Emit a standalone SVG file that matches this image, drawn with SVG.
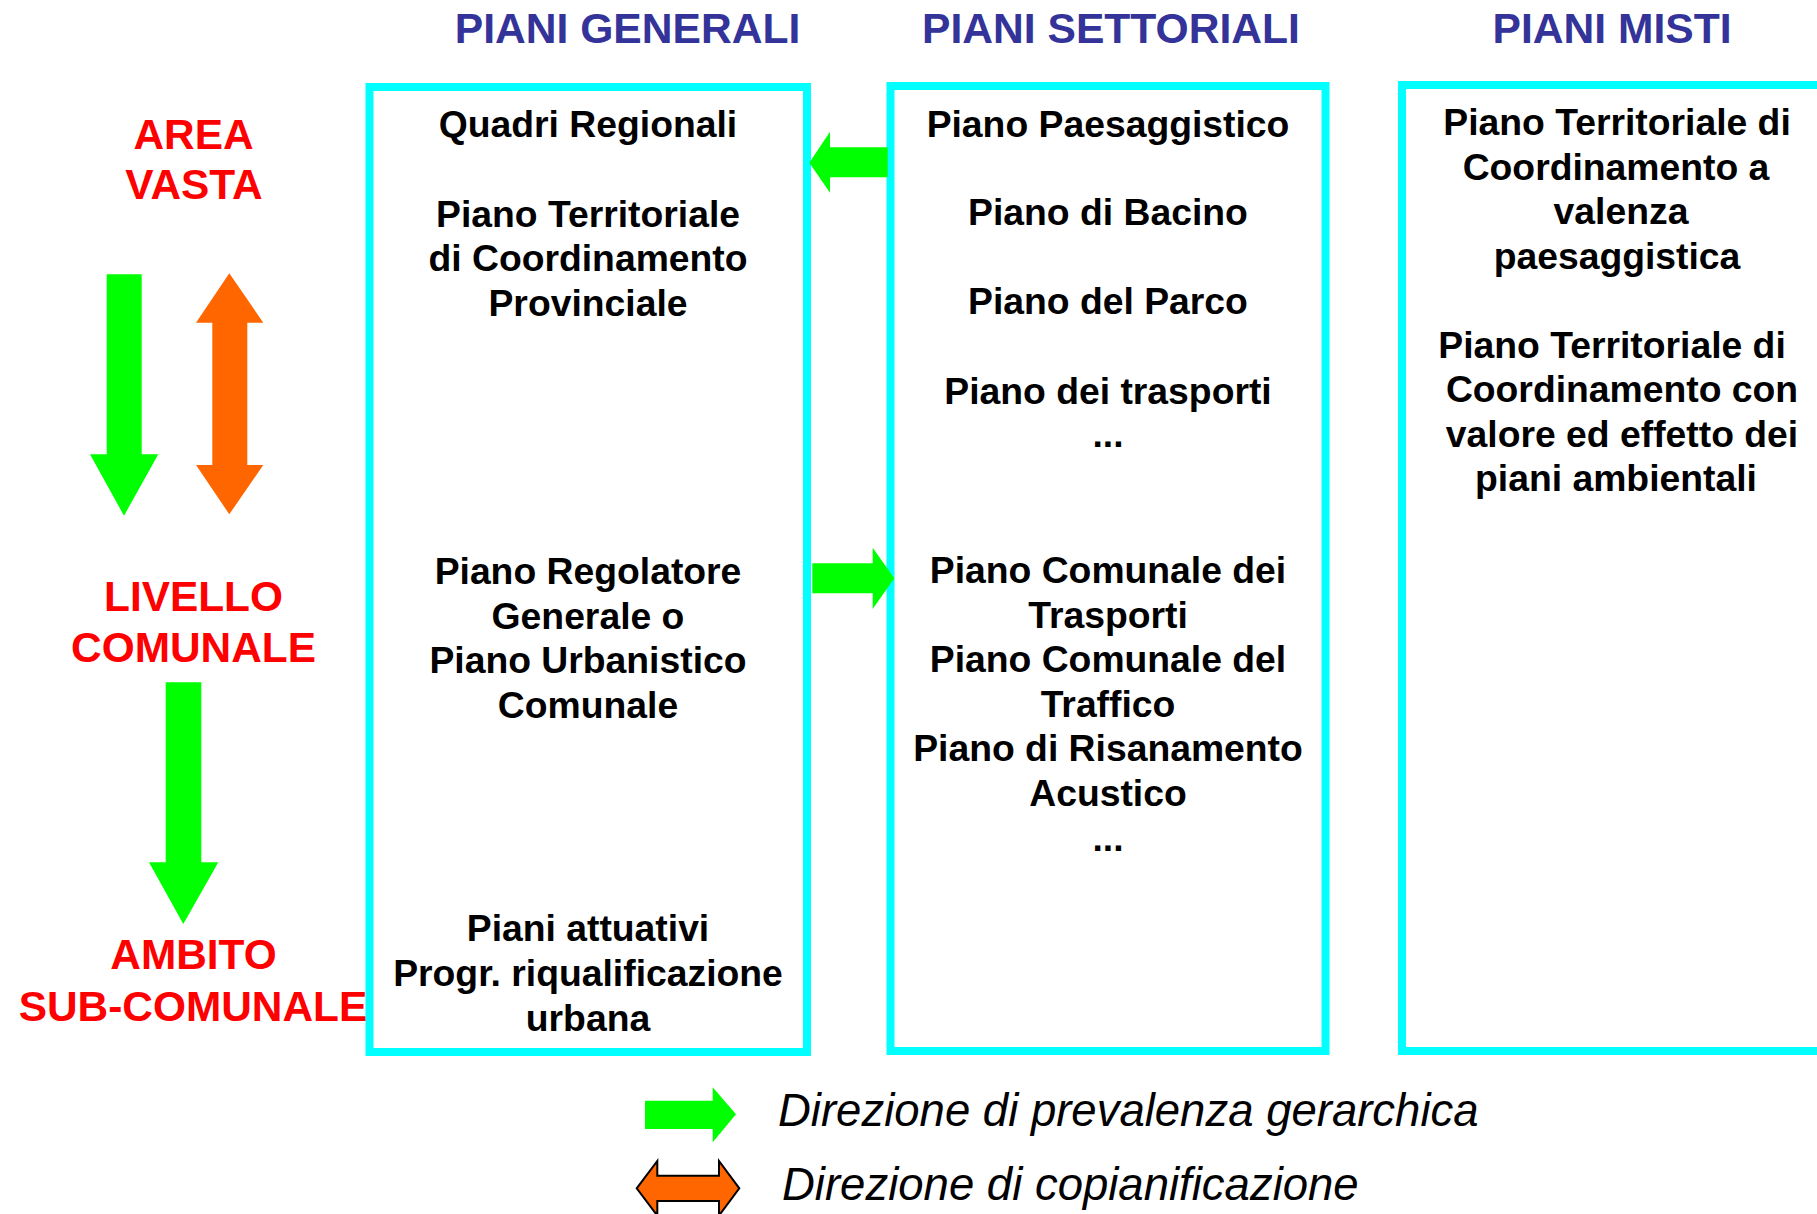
<svg xmlns="http://www.w3.org/2000/svg" width="1817" height="1214" viewBox="0 0 1817 1214">
  <style>
    .box { fill: none; stroke: #00FFFF; stroke-width: 8; }
    .title { font-family: "Liberation Sans", Arial, sans-serif; font-weight: bold; font-size: 42.6px; fill: #333399; text-anchor: middle; }
    .level { font-family: "Liberation Sans", Arial, sans-serif; font-weight: bold; font-size: 42.4px; fill: #FF0000; text-anchor: middle; }
    .item { font-family: "Liberation Sans", Arial, sans-serif; font-weight: bold; font-size: 37.3px; fill: #000000; text-anchor: middle; }
    .legend { font-family: "Liberation Sans", Arial, sans-serif; font-style: italic; font-size: 45.5px; fill: #000000; }
    .green { fill: #00FF00; }
    .orange { fill: #FF6600; }
    .orange-outline { fill: #FF6600; stroke: #000000; stroke-width: 2; stroke-linejoin: miter; }
  </style>
  <rect width="1817" height="1214" fill="#FFFFFF"/>

  <g id="titles">
    <text class="title" x="627.5" y="43">PIANI GENERALI</text>
    <text class="title" x="1111" y="43">PIANI SETTORIALI</text>
    <text class="title" x="1612" y="43">PIANI MISTI</text>
  </g>

  <g id="levels">
    <text class="level" x="193.5" y="149.3">AREA</text>
    <text class="level" x="194" y="199.3">VASTA</text>
    <text class="level" x="193.5" y="611">LIVELLO</text>
    <text class="level" x="193.5" y="661.7">COMUNALE</text>
    <text class="level" x="193.5" y="969.3">AMBITO</text>
    <text class="level" x="193" y="1021">SUB-COMUNALE</text>
  </g>

  <g id="level-arrows">
    <polygon class="green" points="106.7,274.3 141.7,274.3 141.7,454.3 158.3,454.3 124,515.7 90,454.3 106.7,454.3"/>
    <polygon class="orange" points="229.3,273.3 263.3,322.7 247.3,322.7 247.3,465 263.3,465 229.3,514.3 196,465 212.3,465 212.3,322.7 196,322.7"/>
    <polygon class="green" points="165.7,682.3 201.3,682.3 201.3,862.3 218.3,862.3 183.3,924 149,862.3 165.7,862.3"/>
  </g>

  <g id="piani-generali">
    <rect class="box" x="369.5" y="87" width="437.5" height="965"/>
    <text class="item" x="588" y="137">Quadri Regionali</text>
    <text class="item" x="588" y="226.5">Piano Territoriale</text>
    <text class="item" x="588" y="271.2">di Coordinamento</text>
    <text class="item" x="588" y="315.9">Provinciale</text>
    <text class="item" x="588" y="584">Piano Regolatore</text>
    <text class="item" x="588" y="628.7">Generale o</text>
    <text class="item" x="588" y="673.4">Piano Urbanistico</text>
    <text class="item" x="588" y="718.1">Comunale</text>
    <text class="item" x="588" y="941">Piani attuativi</text>
    <text class="item" x="588" y="986">Progr. riqualificazione</text>
    <text class="item" x="588" y="1030.9">urbana</text>
  </g>

  <g id="piani-settoriali">
    <rect class="box" x="890.5" y="86" width="435" height="965"/>
    <text class="item" x="1108" y="137">Piano Paesaggistico</text>
    <text class="item" x="1108" y="225.3">Piano di Bacino</text>
    <text class="item" x="1108" y="314">Piano del Parco</text>
    <text class="item" x="1108" y="404">Piano dei trasporti</text>
    <text class="item" x="1108" y="446.7">...</text>
    <text class="item" x="1108" y="583">Piano Comunale dei</text>
    <text class="item" x="1108" y="627.5">Trasporti</text>
    <text class="item" x="1108" y="672">Piano Comunale del</text>
    <text class="item" x="1108" y="716.5">Traffico</text>
    <text class="item" x="1108" y="761">Piano di Risanamento</text>
    <text class="item" x="1108" y="805.5">Acustico</text>
    <text class="item" x="1108" y="850.5">...</text>
  </g>

  <g id="piani-misti">
    <rect class="box" x="1402" y="85" width="500" height="966"/>
    <text class="item" x="1617" y="135">Piano Territoriale di</text>
    <text class="item" x="1616" y="179.5">Coordinamento a</text>
    <text class="item" x="1621" y="224">valenza</text>
    <text class="item" x="1617" y="268.5">paesaggistica</text>
    <text class="item" x="1612" y="358.3">Piano Territoriale di</text>
    <text class="item" x="1622" y="402">Coordinamento con</text>
    <text class="item" x="1622" y="446.5">valore ed effetto dei</text>
    <text class="item" x="1616" y="491">piani ambientali</text>
  </g>

  <g id="connectors">
    <polygon class="green" points="809.3,162.7 830,131.7 830,147.3 887.7,147.3 887.7,177.3 830,177.3 830,192.7"/>
    <polygon class="green" points="812.3,563.3 872.7,563.3 872.7,547.7 894.3,578.3 872.7,609 872.7,593.3 812.3,593.3"/>
  </g>

  <g id="legend">
    <polygon class="green" points="645,1100.7 712.7,1100.7 712.7,1087.3 736,1114.3 712.7,1142.3 712.7,1129 645,1129"/>
    <text class="legend" x="778" y="1126">Direzione di prevalenza gerarchica</text>
    <polygon class="orange-outline" points="636.7,1188.3 657.3,1161 657.3,1175.7 719,1175.7 719,1161 739.3,1188.3 719,1215.6 719,1201 657.3,1201 657.3,1215.6"/>
    <text class="legend" x="782" y="1200">Direzione di copianificazione</text>
  </g>
</svg>
